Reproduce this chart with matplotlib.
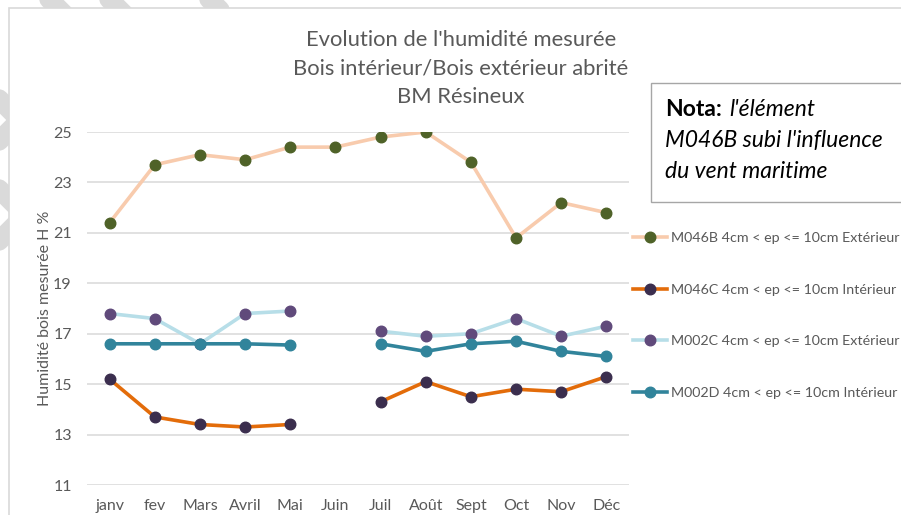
import matplotlib

matplotlib.use("Agg")
import matplotlib.pyplot as plt
import numpy as np
from matplotlib.patches import Rectangle

plt.rcParams["font.family"] = ["Lato", "DejaVu Sans"]

# ==================== Data ====================
MONTHS = ["janv", "fev", "Mars", "Avril", "Mai", "Juin",
          "Juil", "Août", "Sept", "Oct", "Nov", "Déc"]
nan = np.nan
M046B_EXT = [21.4, 23.7, 24.1, 23.9, 24.4, 24.4, 24.8, 25.0, 23.8, 20.8, 22.2, 21.8]
M046C_INT = [15.2, 13.7, 13.4, 13.3, 13.4, nan, 14.3, 15.1, 14.5, 14.8, 14.7, 15.3]
M002C_EXT = [17.8, 17.6, 16.6, 17.8, 17.9, nan, 17.1, 16.9, 17.0, 17.6, 16.9, 17.3]
M002D_INT = [16.6, 16.6, 16.6, 16.6, 16.55, nan, 16.6, 16.3, 16.6, 16.7, 16.3, 16.1]

SERIES = [
    ("M046B 4cm < ep <= 10cm Extérieur", M046B_EXT, "#F8CBAD", "#4F6228"),
    ("M046C 4cm < ep <= 10cm Intérieur", M046C_INT, "#E36C0A", "#3B2E4E"),
    ("M002C 4cm < ep <= 10cm Extérieur", M002C_EXT, "#B7DEE8", "#604A7B"),
    ("M002D 4cm < ep <= 10cm Intérieur", M002D_INT, "#31849B", "#31849B"),
]
TITLE_LINES = ["Evolution de l'humidité mesurée",
               "Bois intérieur/Bois extérieur abrité",
               "BM Résineux"]
Y_TICKS = [11, 13, 15, 17, 19, 21, 23, 25]
# ===============================================

W, H = 901, 515
TEXT_GREY = "#595959"
GRID_GREY = "#D9D9D9"


def fx(px):
    return px / W


def fy(py):
    return 1 - py / H


fig = plt.figure(figsize=(W / 100, H / 100), dpi=100)

# page background with the chart frame
bg = fig.add_axes([0, 0, 1, 1], zorder=-5)
bg.set_xlim(0, W)
bg.set_ylim(H, 0)
bg.axis("off")
bg.add_patch(Rectangle((9, 8), W + 10, H + 10, facecolor="white",
                       edgecolor=GRID_GREY, linewidth=1.2, zorder=2))

# faint diagonal stripes of the page behind the frame
stripes = [
    ((20, -30), (80, 30)), ((80, -30), (135, 25)), ((190, -20), (220, 10)),
    ((-40, 60), (20, 120)), ((20, 120), (-40, 180)),
    ((-40, 150), (25, 215)), ((25, 215), (-40, 280)),
]
for (x0, y0), (x1, y1) in stripes:
    bg.plot([x0, x1], [y0, y1], color="#DADADA", linewidth=14,
            solid_capstyle="round", zorder=1)

ax = fig.add_axes([fx(87), fy(485), fx(629) - fx(87), fy(132) - fy(485)])
x = np.arange(len(MONTHS))
for label, values, line_c, marker_c in SERIES:
    ax.plot(x, values, color=line_c, linewidth=2.6, marker="o",
            markersize=7.6, markerfacecolor=marker_c, markeredgecolor=marker_c,
            label=label)

ax.set_xlim(-0.5, len(MONTHS) - 0.5)
ax.set_ylim(11, 25)
ax.set_yticks(Y_TICKS)
ax.set_xticks(x)
ax.set_xticklabels(MONTHS, va="baseline")
ax.tick_params(length=0, labelsize=11.5, labelcolor=TEXT_GREY)
ax.tick_params(axis="y", pad=11)
ax.tick_params(axis="x", pad=18)
ax.grid(axis="y", color=GRID_GREY, linewidth=1.1)
ax.set_axisbelow(True)
for side in ax.spines.values():
    side.set_visible(False)
ax.patch.set_alpha(0)
ax.set_ylabel("Humidité bois mesurée H %", fontsize=11.5, color=TEXT_GREY,
              labelpad=1)

for i, line in enumerate(TITLE_LINES):
    fig.text(fx(461), fy(40 + i * 28.5), line, ha="center", va="center",
             fontsize=15.8, color=TEXT_GREY)

leg = fig.legend(loc="center left", bbox_to_anchor=(fx(633), fy(315.5)),
                 frameon=False, fontsize=10.3, labelcolor=TEXT_GREY,
                 handlelength=2.4, handletextpad=0.25, labelspacing=2.75,
                 borderpad=0, borderaxespad=0)

# note box
bg.add_patch(Rectangle((651, 83), 300, 119, facecolor="white",
                       edgecolor="#A6A6A6", linewidth=1.0, zorder=3))
nota = fig.text(fx(665), fy(110), "Nota:", fontsize=16.5, fontweight="bold",
                color="black", va="center")
fig.canvas.draw()
end_px = nota.get_window_extent().x1
fig.text(end_px / W + fx(7), fy(110), "l'élément", fontsize=16.5,
         style="italic", va="center")
fig.text(fx(665), fy(141), "M046B subi l'influence", fontsize=16.5,
         style="italic", va="center")
fig.text(fx(665), fy(172), "du vent maritime", fontsize=16.5,
         style="italic", va="center")

fig.savefig("out.png", dpi=100)
plt.close(fig)
